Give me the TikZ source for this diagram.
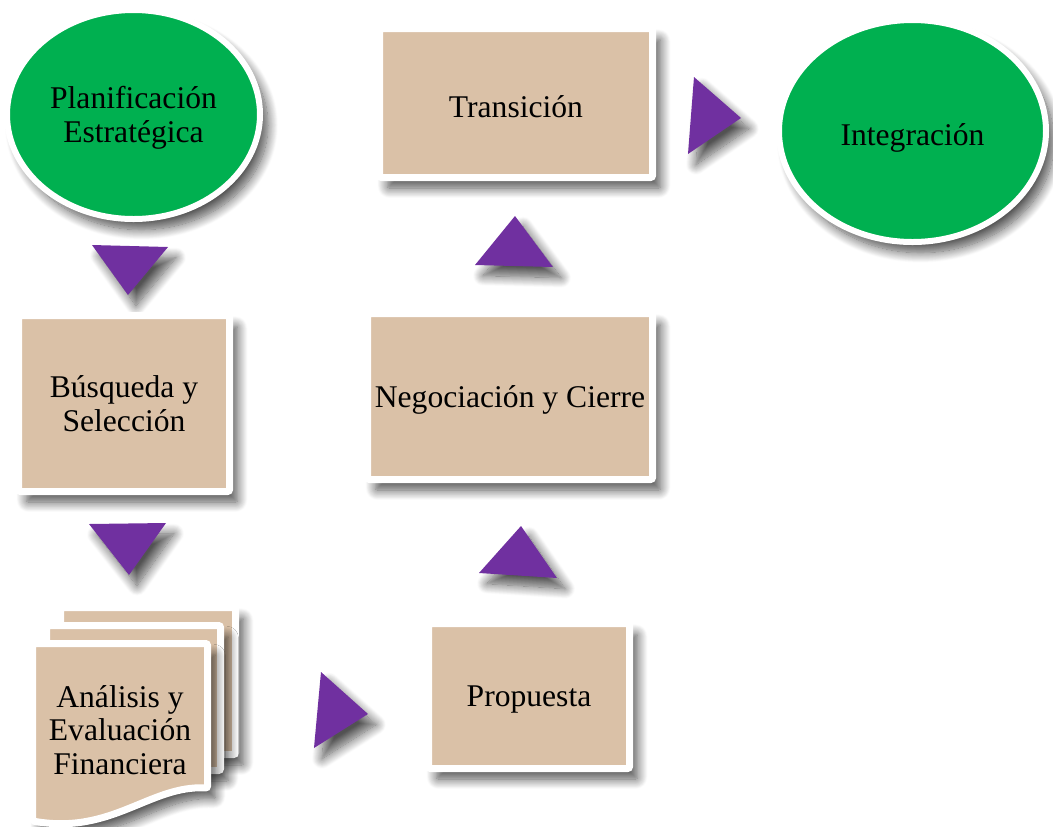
\documentclass[tikz,border=0pt]{standalone}
\usepackage{fontspec}
\setmainfont{Liberation Serif}
\usepackage{xcolor}
\usetikzlibrary{shapes.geometric,shadows.blur}
\definecolor{verdeproc}{RGB}{0,176,80}
\definecolor{arena}{RGB}{218,193,167}
\definecolor{morado}{RGB}{112,48,160}
\newcommand{\letra}{\fontsize{23.7}{25}\selectfont}

\begin{document}
\begin{tikzpicture}[x=0.75pt,y=0.75pt,yscale=-1,xscale=1,
  sombra/.style={blur shadow={shadow xshift=6pt,shadow yshift=-8pt,shadow blur radius=7.5pt,shadow blur steps=14,shadow opacity=68}},
  caja/.style={rectangle,rounded corners=1.5pt,draw=white,line width=5.25pt,fill=arena,sombra,inner sep=2pt,align=center,font=\letra,text depth=0pt},
  ovalo/.style={ellipse,draw=white,line width=4.5pt,fill=verdeproc,sombra,inner sep=0pt,align=center,font=\letra,text depth=0pt},
  hoja/.style={draw=white,line width=5.25pt,rounded corners=1.5pt,fill=arena,sombra},
  flecha/.style={fill=morado,sombra}]
\useasboundingbox (0,0) rectangle (1053,826);

%Shape: Triangle
\fill [flecha] (92,245) -- (168,247) -- (128,295) -- cycle ;
%Shape: Triangle
\fill [flecha] (89,524) -- (166,523) -- (129,575) -- cycle ;
%Shape: Triangle
\fill [flecha] (321,672) -- (368,714) -- (314,748) -- cycle ;
%Shape: Triangle
\fill [flecha] (521,526) -- (557,578) -- (479,573) -- cycle ;
%Shape: Triangle
\fill [flecha] (515,216) -- (553,267) -- (475,265) -- cycle ;
%Shape: Triangle
\fill [flecha] (694,77) -- (741,118) -- (688,154) -- cycle ;

%Shape: Ellipse
\node [ovalo,minimum width=189.75pt,minimum height=156.75pt] (planif) at (133.5,114.5) {Planificación\\Estratégica};
%Shape: Ellipse
\node [ovalo,minimum width=200.25pt,minimum height=166.5pt,text height=21.5pt] (integ) at (912.5,131) {Integración};
%Shape: Rectangle
\node [caja,minimum width=204.75pt,minimum height=111.75pt,text height=21.5pt] (trans) at (516,103) {Transición};
%Shape: Rectangle
\node [caja,minimum width=213.75pt,minimum height=124.5pt] (negoc) at (510,396.5) {Negociación y Cierre};
%Shape: Rectangle
\node [caja,minimum width=158.25pt,minimum height=132pt] (busq) at (124,403.5) {Búsqueda y\\Selección};
%Shape: Rectangle
\node [caja,minimum width=150.75pt,minimum height=108.75pt] (prop) at (529,696) {Propuesta};

%Shape: Multidocument
\draw [hoja] (60.5,607.5) rectangle (235.5,754.5) ;
\draw [hoja] (46.5,625.5) rectangle (220.5,770.5) ;
\draw [hoja] (32.5,643.5) -- (207.5,643.5) -- (207.5,788) .. controls (150,785) and (112,835) .. (32.5,821) -- cycle ;
% Text Node
\node [font=\letra,align=center,inner sep=0.75pt] (analisis) at (120,730) {Análisis y\\Evaluación\\Financiera};

\end{tikzpicture}
\end{document}
